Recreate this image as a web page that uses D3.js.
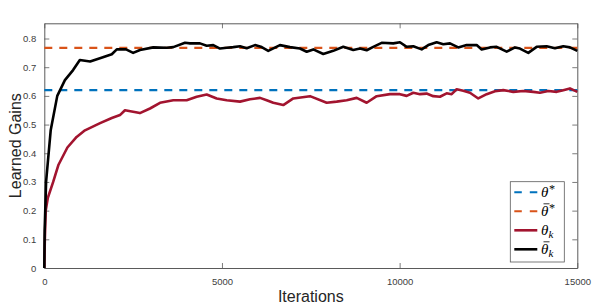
<!DOCTYPE html>
<html>
<head>
<meta charset="utf-8">
<script src="https://cdn.jsdelivr.net/npm/d3@7"></script>
<style>
  body { margin: 0; background: #fff; }
  svg { display: block; font-family: "Liberation Sans", Arial, sans-serif; }
</style>
</head>
<body>
<div id="chart"></div>
<script>
// reference levels
var thetaStar = 0.620;
var thetaBarStar = 0.767;

// theta_k (iteration, value)
var thetaIter = [0, 15, 40, 100, 250, 400, 650, 910, 1145, 1570, 1900, 2130, 2270, 2690, 2975,
  3256, 3630, 4007, 4289, 4570, 4851, 5133, 5508, 5790, 6071, 6258, 6444, 6725, 7007, 7477,
  7947, 8228, 8510, 8791, 9072, 9354, 9728, 10009, 10198, 10384, 10572, 10760, 10946, 11135,
  11323, 11464, 11605, 11791, 11979, 12213, 12449, 12683, 12916, 13198, 13479, 13760, 13949,
  14183, 14419, 14605, 14793, 15000];
var thetaVal = [0, 0.10, 0.20, 0.245, 0.30, 0.36, 0.42, 0.457, 0.48, 0.505, 0.523, 0.533, 0.55, 0.54, 0.556,
  0.576, 0.585, 0.585, 0.597, 0.605, 0.591, 0.585, 0.58, 0.588, 0.593, 0.585, 0.576, 0.568, 0.591, 0.599,
  0.576, 0.58, 0.585, 0.593, 0.576, 0.599, 0.606, 0.606, 0.60, 0.611, 0.606, 0.608, 0.599, 0.597,
  0.609, 0.606, 0.623, 0.618, 0.611, 0.591, 0.606, 0.616, 0.62, 0.614, 0.617, 0.614, 0.611,
  0.617, 0.614, 0.62, 0.626, 0.614];

// theta_bar_k (iteration, value)
var barIter = [0, 10, 50, 180, 365, 580, 810, 1000, 1290, 1650, 1900, 2040, 2300, 2500, 2693,
  3067, 3444, 3630, 3959, 4100, 4381, 4570, 4756, 4944, 5133, 5318, 5508, 5696, 5929, 6118,
  6303, 6632, 6914, 7195, 7384, 7570, 7851, 8132, 8414, 8695, 8884, 9072, 9258, 9494, 9821,
  10009, 10198, 10384, 10620, 10806, 11042, 11228, 11416, 11650, 11886, 12168, 12308, 12542,
  12730, 13012, 13246, 13386, 13620, 13856, 14137, 14371, 14605, 14793, 15000];
var barVal = [0, 0.13, 0.30, 0.48, 0.60, 0.655, 0.69, 0.725, 0.72, 0.735, 0.745, 0.762, 0.762, 0.75, 0.76,
  0.769, 0.768, 0.770, 0.785, 0.783, 0.783, 0.775, 0.777, 0.765, 0.768, 0.770, 0.773, 0.766, 0.777, 0.770,
  0.757, 0.777, 0.770, 0.765, 0.754, 0.762, 0.746, 0.757, 0.771, 0.760, 0.765, 0.759, 0.771, 0.785, 0.783,
  0.787, 0.771, 0.773, 0.762, 0.777, 0.787, 0.780, 0.783, 0.769, 0.777, 0.777, 0.762, 0.769,
  0.771, 0.754, 0.769, 0.765, 0.750, 0.771, 0.773, 0.766, 0.773, 0.769, 0.757];

var xTicks = [0, 5000, 10000, 15000];
var yTicks = [0, 0.1, 0.2, 0.3, 0.4, 0.5, 0.6, 0.7, 0.8];

var svgWidth = 598, svgHeight = 308;
var margin = { top: 23.3, right: 20.7, bottom: 40, left: 44.3 };
var w = svgWidth - margin.left - margin.right;
var h = svgHeight - margin.top - margin.bottom;

var svg = d3.select("#chart").append("svg")
  .attr("width", svgWidth)
  .attr("height", svgHeight);

var g = svg.append("g")
  .attr("transform", "translate(" + margin.left + "," + margin.top + ")");

var x = d3.scaleLinear().domain([0, 15000]).range([0, w]);
var y = d3.scaleLinear().domain([0, 0.853]).range([h, 0]);

var axisColor = "#5a5a5a";
var tickColor = "#404040";

// axes with inward ticks
var xAxis = g.append("g")
  .attr("transform", "translate(0," + h + ")")
  .call(d3.axisBottom(x).tickValues(xTicks).tickSizeInner(-5).tickSizeOuter(0).tickPadding(10).tickFormat(d3.format("d")));
var yAxis = g.append("g")
  .call(d3.axisLeft(y).tickValues(yTicks).tickSizeInner(-5).tickSizeOuter(0).tickPadding(8).tickFormat(function(d) { return d === 0 ? "0" : d3.format(".1f")(d); }));
var xTop = g.append("g")
  .call(d3.axisTop(x).tickValues(xTicks).tickSizeInner(-5).tickSizeOuter(0).tickFormat(""));
var yRight = g.append("g")
  .attr("transform", "translate(" + w + ",0)")
  .call(d3.axisRight(y).tickValues(yTicks).tickSizeInner(-5).tickSizeOuter(0).tickFormat(""));

[xAxis, yAxis, xTop, yRight].forEach(function(a) {
  a.selectAll("path").attr("stroke", axisColor).attr("stroke-width", 1);
  a.selectAll("line").attr("stroke", axisColor).attr("stroke-width", 0.8);
  a.selectAll("text").attr("fill", tickColor).style("font-size", "9.5px");
});

// dashed reference lines
g.append("line")
  .attr("x1", x(0)).attr("x2", x(15000))
  .attr("y1", y(thetaStar)).attr("y2", y(thetaStar))
  .attr("stroke", "#0072BD").attr("stroke-width", 2.2).attr("stroke-dasharray", "8,7");
g.append("line")
  .attr("x1", x(0)).attr("x2", x(15000))
  .attr("y1", y(thetaBarStar)).attr("y2", y(thetaBarStar))
  .attr("stroke", "#D95319").attr("stroke-width", 2.2).attr("stroke-dasharray", "8,7");

var line = d3.line()
  .x(function(d) { return x(d[0]); })
  .y(function(d) { return y(d[1]); });

g.append("path")
  .datum(d3.zip(thetaIter, thetaVal))
  .attr("fill", "none")
  .attr("stroke", "#A2142F")
  .attr("stroke-width", 2.6)
  .attr("stroke-linejoin", "round")
  .attr("d", line);

g.append("path")
  .datum(d3.zip(barIter, barVal))
  .attr("fill", "none")
  .attr("stroke", "#000")
  .attr("stroke-width", 2.6)
  .attr("stroke-linejoin", "round")
  .attr("d", line);

// axis labels
svg.append("text")
  .attr("x", margin.left + w / 2)
  .attr("y", 302)
  .attr("text-anchor", "middle")
  .attr("fill", "#262626")
  .style("font-size", "16px")
  .text("Iterations");

svg.append("text")
  .attr("transform", "translate(21," + (margin.top + h / 2) + ") rotate(-90)")
  .attr("text-anchor", "middle")
  .attr("fill", "#262626")
  .style("font-size", "16px")
  .text("Learned Gains");

// legend
var legend = svg.append("g");
legend.append("rect")
  .attr("x", 510.3).attr("y", 181.7)
  .attr("width", 54).attr("height", 80.3)
  .attr("fill", "#fff").attr("stroke", "#5a5a5a").attr("stroke-width", 0.8);

var legItems = [
  { color: "#0072BD", dash: "7.5,8", y: 192.3, accent: false, sup: "*", sub: "" },
  { color: "#D95319", dash: "7.5,8", y: 211.3, accent: true, sup: "*", sub: "" },
  { color: "#A2142F", dash: null, y: 230.3, accent: false, sup: "", sub: "k" },
  { color: "#000", dash: null, y: 249.3, accent: true, sup: "", sub: "k" }
];

legItems.forEach(function(it) {
  var ln = legend.append("line")
    .attr("x1", 514.3).attr("x2", 537.3)
    .attr("y1", it.y).attr("y2", it.y)
    .attr("stroke", it.color)
    .attr("stroke-width", it.dash ? 2 : 2.6);
  if (it.dash) ln.attr("stroke-dasharray", it.dash);
  var t = legend.append("text")
    .attr("x", 541)
    .attr("y", it.y + 5)
    .attr("fill", "#000")
    .style("font-family", "'Liberation Serif', 'Times New Roman', serif")
    .style("font-style", "italic")
    .style("font-size", "15px");
  t.append("tspan").text("θ");
  if (it.sup) t.append("tspan").attr("dy", -4).style("font-size", "12px").text(it.sup);
  if (it.sub) t.append("tspan").attr("dy", 3).style("font-size", "11px").text(it.sub);
  if (it.accent) {
    legend.append("line")
      .attr("x1", 543.5).attr("x2", 549.5)
      .attr("y1", it.y - 7.5).attr("y2", it.y - 7.5)
      .attr("stroke", "#000").attr("stroke-width", 0.8);
  }
});
</script>
</body>
</html>
